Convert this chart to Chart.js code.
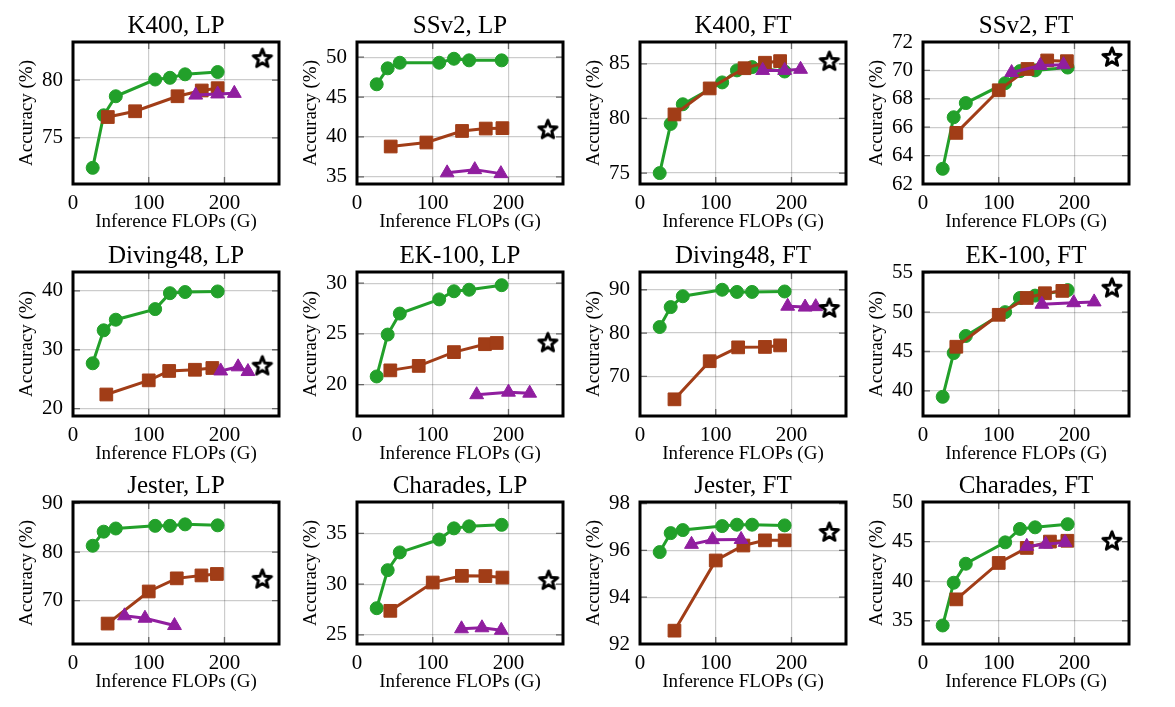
<!DOCTYPE html>
<html><head><meta charset="utf-8">
<script src="https://cdn.jsdelivr.net/npm/chart.js@4.4.1/dist/chart.umd.min.js"></script>
<style>
html,body{margin:0;padding:0;background:#fff;}
#wrap{position:relative;width:1175px;height:707px;overflow:hidden;background:#fff;}
canvas{position:absolute;}
</style></head><body><div id="wrap"></div>
<script>
// ---------- data ----------
const flopTicks = [0, 100, 200];
const greenFlops = [26, 40.5, 56.5, 108.5, 128, 148, 191];

const k400LP_green = [72.4, 76.95, 78.6, 80.05, 80.2, 80.5, 80.7];
const k400LP_brownX = [46, 82, 138, 170, 191];
const k400LP_brown = [76.8, 77.3, 78.6, 79.1, 79.3];
const k400LP_purpleX = [162, 191, 213];
const k400LP_purple = [78.7, 78.8, 78.85];
const k400LP_star = [250, 81.9];
const k400LP_yTicks = [75, 80];

const ssv2LP_green = [46.6, 48.6, 49.3, 49.3, 49.8, 49.6, 49.6];
const ssv2LP_brownX = [44.5, 91.6, 138.7, 170, 192];
const ssv2LP_brown = [38.8, 39.3, 40.75, 41.05, 41.1];
const ssv2LP_purpleX = [119, 155.5, 190];
const ssv2LP_purple = [35.5, 35.9, 35.4];
const ssv2LP_star = [252, 40.95];
const ssv2LP_yTicks = [35, 40, 45, 50];

const k400FT_green = [75.0, 79.5, 81.3, 83.3, 84.4, 84.7, 84.3];
const k400FT_brownX = [45.5, 92, 138, 165, 185];
const k400FT_brown = [80.37, 82.75, 84.6, 85.1, 85.25];
const k400FT_purpleX = [162, 191, 212];
const k400FT_purple = [84.4, 84.4, 84.5];
const k400FT_star = [250, 85.25];
const k400FT_yTicks = [75, 80, 85];

const ssv2FT_green = [63.07, 66.7, 67.7, 69.1, 69.95, 70.0, 70.2];
const ssv2FT_brownX = [44, 100, 138, 164, 190];
const ssv2FT_brown = [65.6, 68.6, 70.1, 70.7, 70.65];
const ssv2FT_purpleX = [117, 155, 185.5];
const ssv2FT_purple = [69.85, 70.35, 70.4];
const ssv2FT_star = [249.5, 70.95];
const ssv2FT_yTicks = [62, 64, 66, 68, 70, 72];

const divLP_green = [27.7, 33.3, 35.1, 36.9, 39.6, 39.8, 39.9];
const divLP_brownX = [44, 100, 127, 161, 184];
const divLP_brown = [22.4, 24.8, 26.4, 26.6, 26.9];
const divLP_purpleX = [195, 218, 231];
const divLP_purple = [26.4, 27.1, 26.3];
const divLP_star = [250, 27.3];
const divLP_yTicks = [20, 30, 40];

const ekLP_green = [20.8, 24.93, 27.0, 28.4, 29.2, 29.35, 29.8];
const ekLP_brownX = [44, 81.5, 128, 169, 184.5];
const ekLP_brown = [21.4, 21.84, 23.2, 23.98, 24.1];
const ekLP_purpleX = [158, 200, 228];
const ekLP_purple = [19.0, 19.25, 19.15];
const ekLP_star = [252, 24.15];
const ekLP_yTicks = [20, 25, 30];

const divFT_green = [81.4, 86.0, 88.5, 90.0, 89.5, 89.5, 89.6];
const divFT_brownX = [45.5, 92, 129.6, 165, 185];
const divFT_brown = [64.7, 73.5, 76.7, 76.8, 77.15];
const divFT_purpleX = [195, 218, 232];
const divFT_purple = [86.2, 86.0, 86.1];
const divFT_star = [250, 85.8];
const divFT_yTicks = [70, 80, 90];

const ekFT_green = [39.24, 44.8, 46.97, 50.0, 51.8, 52.1, 52.8];
const ekFT_brownX = [44, 100, 137, 161, 184];
const ekFT_brown = [45.6, 49.66, 51.8, 52.4, 52.7];
const ekFT_purpleX = [157, 199, 226];
const ekFT_purple = [51.0, 51.2, 51.3];
const ekFT_star = [249.5, 53.1];
const ekFT_yTicks = [40, 45, 50, 55];

const jesLP_green = [81.3, 84.2, 84.85, 85.4, 85.4, 85.7, 85.5];
const jesLP_brownX = [45.7, 100, 137, 169.6, 190];
const jesLP_brown = [65.3, 71.9, 74.6, 75.2, 75.5];
const jesLP_purpleX = [68, 95, 134];
const jesLP_purple = [66.9, 66.4, 64.9];
const jesLP_star = [250, 74.5];
const jesLP_yTicks = [70, 80, 90];

const chaLP_green = [27.63, 31.38, 33.13, 34.4, 35.5, 35.7, 35.85];
const chaLP_brownX = [44, 100, 138.5, 169.5, 192];
const chaLP_brown = [27.37, 30.16, 30.82, 30.8, 30.65];
const chaLP_purpleX = [138, 165, 190.5];
const chaLP_purple = [25.6, 25.7, 25.45];
const chaLP_star = [253, 30.4];
const chaLP_yTicks = [25, 30, 35];

const jesFT_green = [95.93, 96.74, 96.87, 97.04, 97.1, 97.1, 97.07];
const jesFT_brownX = [45.5, 100, 136.5, 165, 191];
const jesFT_brown = [92.57, 95.57, 96.21, 96.43, 96.43];
const jesFT_purpleX = [68, 95.7, 133.5];
const jesFT_purple = [96.26, 96.46, 96.47];
const jesFT_star = [250, 96.79];
const jesFT_yTicks = [92, 94, 96, 98];

const chaFT_green = [34.4, 39.8, 42.2, 44.9, 46.6, 46.8, 47.2];
const chaFT_brownX = [44, 100, 137, 167.6, 190.6];
const chaFT_brown = [37.7, 42.3, 44.2, 45.0, 45.1];
const chaFT_purpleX = [137, 162, 187.6];
const chaFT_purple = [44.4, 44.66, 44.9];
const chaFT_star = [249.5, 45.1];
const chaFT_yTicks = [35, 40, 45, 50];

const panels = [
  {title:'K400, LP', yMin:71.0, yMax:83.3, g:k400LP_green, bx:k400LP_brownX, b:k400LP_brown, px:k400LP_purpleX, p:k400LP_purple, s:k400LP_star, yt:k400LP_yTicks},
  {title:'SSv2, LP', yMin:34.1, yMax:51.9, g:ssv2LP_green, bx:ssv2LP_brownX, b:ssv2LP_brown, px:ssv2LP_purpleX, p:ssv2LP_purple, s:ssv2LP_star, yt:ssv2LP_yTicks},
  {title:'K400, FT', yMin:74.0, yMax:87.0, g:k400FT_green, bx:k400FT_brownX, b:k400FT_brown, px:k400FT_purpleX, p:k400FT_purple, s:k400FT_star, yt:k400FT_yTicks},
  {title:'SSv2, FT', yMin:62.0, yMax:72.0, g:ssv2FT_green, bx:ssv2FT_brownX, b:ssv2FT_brown, px:ssv2FT_purpleX, p:ssv2FT_purple, s:ssv2FT_star, yt:ssv2FT_yTicks},
  {title:'Diving48, LP', yMin:18.75, yMax:43.2, g:divLP_green, bx:divLP_brownX, b:divLP_brown, px:divLP_purpleX, p:divLP_purple, s:divLP_star, yt:divLP_yTicks},
  {title:'EK-100, LP', yMin:16.9, yMax:31.1, g:ekLP_green, bx:ekLP_brownX, b:ekLP_brown, px:ekLP_purpleX, p:ekLP_purple, s:ekLP_star, yt:ekLP_yTicks},
  {title:'Diving48, FT', yMin:60.85, yMax:94.1, g:divFT_green, bx:divFT_brownX, b:divFT_brown, px:divFT_purpleX, p:divFT_purple, s:divFT_star, yt:divFT_yTicks},
  {title:'EK-100, FT', yMin:36.8, yMax:55.1, g:ekFT_green, bx:ekFT_brownX, b:ekFT_brown, px:ekFT_purpleX, p:ekFT_purple, s:ekFT_star, yt:ekFT_yTicks},
  {title:'Jester, LP', yMin:61.1, yMax:90.3, g:jesLP_green, bx:jesLP_brownX, b:jesLP_brown, px:jesLP_purpleX, p:jesLP_purple, s:jesLP_star, yt:jesLP_yTicks},
  {title:'Charades, LP', yMin:24.1, yMax:38.1, g:chaLP_green, bx:chaLP_brownX, b:chaLP_brown, px:chaLP_purpleX, p:chaLP_purple, s:chaLP_star, yt:chaLP_yTicks},
  {title:'Jester, FT', yMin:92.0, yMax:98.07, g:jesFT_green, bx:jesFT_brownX, b:jesFT_brown, px:jesFT_purpleX, p:jesFT_purple, s:jesFT_star, yt:jesFT_yTicks},
  {title:'Charades, FT', yMin:32.06, yMax:50.0, g:chaFT_green, bx:chaFT_brownX, b:chaFT_brown, px:chaFT_purpleX, p:chaFT_purple, s:chaFT_star, yt:chaFT_yTicks}
];

// ---------- layout ----------
const FONT = "'Liberation Serif', 'DejaVu Serif', serif";
const GREEN = '#22a02a', BROWN = '#a13d17', PURPLE = '#901e9f';
const plotLefts = [73, 357, 640, 923];
const plotTops = [42, 272, 502];
const plotHeights = [142, 144, 142];
const PLOT_W = 212, LEFT_SPACE = 73, TOP_SPACE = 42, BOTTOM_SPACE = 50, RIGHT_PAD = 5;

Chart.defaults.font.family = FONT;
Chart.defaults.color = '#000';

const starImg = (() => {
  const c = document.createElement('canvas');
  c.width = 28; c.height = 28;
  const g = c.getContext('2d');
  const cx = 14, cy = 14.6, R = 9.6, r = 4.1;
  g.beginPath();
  for (let i = 0; i < 10; i++) {
    const a = -Math.PI / 2 + i * Math.PI / 5;
    const rad = i % 2 ? r : R;
    g.lineTo(cx + rad * Math.cos(a), cy + rad * Math.sin(a));
  }
  g.closePath();
  g.fillStyle = '#fff'; g.fill();
  g.lineWidth = 3; g.lineJoin = 'round'; g.strokeStyle = '#000'; g.stroke();
  return c;
})();

const pts = (xs, ys) => ys.map((y, i) => ({x: xs[i], y}));

const framePlugin = {
  id: 'frame',
  beforeDatasetsDraw(chart) {
    const {ctx, chartArea: a, scales: {x, y}} = chart;
    ctx.save();
    ctx.strokeStyle = '#666'; ctx.lineWidth = 1.3;
    y.ticks.forEach(t => {
      const py = y.getPixelForValue(t.value);
      ctx.beginPath();
      ctx.moveTo(a.left, py); ctx.lineTo(a.left + 7, py);
      ctx.moveTo(a.right, py); ctx.lineTo(a.right - 7, py);
      ctx.stroke();
    });
    x.ticks.forEach(t => {
      const px = x.getPixelForValue(t.value);
      ctx.beginPath();
      ctx.moveTo(px, a.bottom); ctx.lineTo(px, a.bottom - 7);
      ctx.moveTo(px, a.top); ctx.lineTo(px, a.top + 7);
      ctx.stroke();
    });
    ctx.restore();
  },
  afterDraw(chart, args, opts) {
    const {ctx, chartArea: a} = chart;
    ctx.save();
    ctx.strokeStyle = '#000'; ctx.lineWidth = 3;
    ctx.strokeRect(a.left, a.top, a.right - a.left, a.bottom - a.top);
    ctx.fillStyle = '#000';
    ctx.textAlign = 'center'; ctx.textBaseline = 'alphabetic';
    ctx.font = '25px ' + FONT;
    ctx.fillText(opts.title, (a.left + a.right) / 2, a.top - 9);
    ctx.font = '19px ' + FONT;
    ctx.fillText('Inference FLOPs (G)', (a.left + a.right) / 2, a.bottom + 43);
    ctx.translate(a.left - 41, (a.top + a.bottom) / 2);
    ctx.rotate(-Math.PI / 2);
    ctx.fillText('Accuracy (%)', 0, 0);
    ctx.restore();
  }
};

const wrap = document.getElementById('wrap');
panels.forEach((P, idx) => {
  const row = Math.floor(idx / 4), col = idx % 4;
  const ph = plotHeights[row];
  const cv = document.createElement('canvas');
  const W = LEFT_SPACE + PLOT_W + RIGHT_PAD, H = TOP_SPACE + ph + BOTTOM_SPACE;
  cv.width = W; cv.height = H;
  cv.style.left = (plotLefts[col] - LEFT_SPACE) + 'px';
  cv.style.top = (plotTops[row] - TOP_SPACE) + 'px';
  cv.style.width = W + 'px'; cv.style.height = H + 'px';
  wrap.appendChild(cv);
  const common = {showLine: true, borderWidth: 3, tension: 0, pointBorderWidth: 1};
  new Chart(cv, {
    type: 'scatter',
    data: {datasets: [
      Object.assign({data: pts(greenFlops, P.g), borderColor: GREEN, backgroundColor: GREEN, pointBorderColor: GREEN,
        pointStyle: 'circle', pointRadius: 6.5, order: 3}, common),
      Object.assign({data: pts(P.bx, P.b), borderColor: BROWN, backgroundColor: BROWN, pointBorderColor: BROWN,
        pointStyle: 'rect', pointRadius: 9, order: 2}, common),
      Object.assign({data: pts(P.px, P.p), borderColor: PURPLE, backgroundColor: PURPLE, pointBorderColor: PURPLE,
        pointStyle: 'triangle', pointRadius: 8, order: 1}, common),
      {data: [{x: P.s[0], y: P.s[1]}], showLine: false, pointStyle: starImg, pointRadius: 10, order: 0}
    ]},
    options: {
      responsive: false, animation: false, events: [],
      layout: {padding: {top: TOP_SPACE, left: 0, right: RIGHT_PAD, bottom: 0}},
      plugins: {legend: {display: false}, tooltip: {enabled: false}, frame: {title: P.title}},
      scales: {
        x: {type: 'linear', min: 0, max: 272,
          afterBuildTicks: s => { s.ticks = flopTicks.map(v => ({value: v})); },
          afterFit: s => { s.height = BOTTOM_SPACE; },
          grid: {color: 'rgba(0,0,0,0.2)', lineWidth: 1.2, drawTicks: false},
          border: {display: false},
          ticks: {padding: 7, maxRotation: 0, font: {size: 21, family: FONT}, color: '#000'}},
        y: {type: 'linear', min: P.yMin, max: P.yMax,
          afterBuildTicks: s => { s.ticks = P.yt.map(v => ({value: v})); },
          afterFit: s => { s.width = LEFT_SPACE; },
          grid: {color: 'rgba(0,0,0,0.2)', lineWidth: 1.2, drawTicks: false},
          border: {display: false},
          ticks: {padding: 10, font: {size: 21, family: FONT}, color: '#000'}}
      }
    },
    plugins: [framePlugin]
  });
});
</script></body></html>
